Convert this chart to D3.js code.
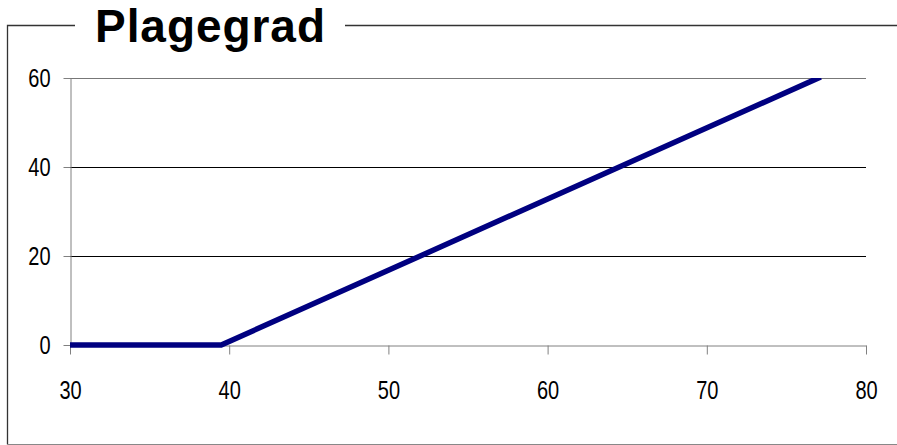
<!DOCTYPE html>
<html><head><meta charset="utf-8">
<script src="https://cdn.jsdelivr.net/npm/d3@7"></script>
<style>body{margin:0;background:#fff}svg{display:block}</style>
</head><body>
<svg id="c" width="897" height="445"></svg>
<script>
const title = "Plagegrad";
const xValues = [30, 39.5, 77];
const yValues = [0, 0, 60];
const xTicks = [30, 40, 50, 60, 70, 80];
const yTicks = [0, 20, 40, 60];

const svg = d3.select("#c");
const x = d3.scaleLinear().domain([30, 80]).range([70, 866]);
const y = d3.scaleLinear().domain([0, 60]).range([345, 78]);
const tickFont = "'Liberation Sans',Arial,sans-serif";
const sx = 0.8;

svg.append("defs").append("clipPath").attr("id","plot").append("rect")
  .attr("x", x(30)).attr("y", y(60)).attr("width", x(80)-x(30)).attr("height", y(0)-y(60)+10);

// frame
const fr = svg.append("g").attr("fill","none");
fr.append("path").attr("d", `M7.5,444.5 L7.5,25.5 L75,25.5`).attr("stroke","#333").attr("stroke-width",1.3);
fr.append("path").attr("d", `M345,25.5 L897,25.5`).attr("stroke","#333").attr("stroke-width",1.3);
fr.append("path").attr("d", `M7.5,444.5 L897,444.5`).attr("stroke","#888").attr("stroke-width",1);

svg.append("text").attr("x", 95).attr("y", 42).attr("font-family","'Liberation Sans',Arial,sans-serif")
  .attr("font-weight","bold").attr("font-size",46).attr("textLength",230).attr("fill","#000").text(title);

// gridlines
svg.append("g").selectAll("line").data(yTicks.filter(d=>d>0)).join("line")
  .attr("x1", x(30)).attr("x2", x(80)).attr("y1", d=>Math.round(y(d))+0.5).attr("y2", d=>Math.round(y(d))+0.5)
  .attr("stroke", d=> d===60 ? "#777" : "#000").attr("stroke-width",1);

// axes
const xa = svg.append("g").attr("transform",`translate(0,${Math.round(y(0))+0.5})`)
  .call(d3.axisBottom(x).tickValues(xTicks).tickSize(9).tickSizeOuter(0).tickPadding(27));
const ya = svg.append("g").attr("transform",`translate(${x(30)+0.5},0)`)
  .call(d3.axisLeft(y).tickValues(yTicks).tickSize(7).tickSizeOuter(0).tickPadding(12));
[xa, ya].forEach(a=>{
  a.select(".domain").attr("stroke","#808080");
  a.selectAll(".tick line").attr("stroke","#808080");
  a.selectAll("text").attr("font-family",tickFont).attr("font-size",25).attr("fill","#000")
    .attr("transform",`scale(${sx},1)`);
});
ya.selectAll("text").attr("x", -20/sx);

// line
const pts = xValues.map((v,i)=>[v, yValues[i]]);
svg.append("path").datum(pts).attr("clip-path","url(#plot)").attr("fill","none")
  .attr("stroke","#000080").attr("stroke-width",5.5).attr("stroke-linecap","square")
  .attr("d", d3.line().x(d=>x(d[0])).y(d=>y(d[1])));
</script>
</body></html>
